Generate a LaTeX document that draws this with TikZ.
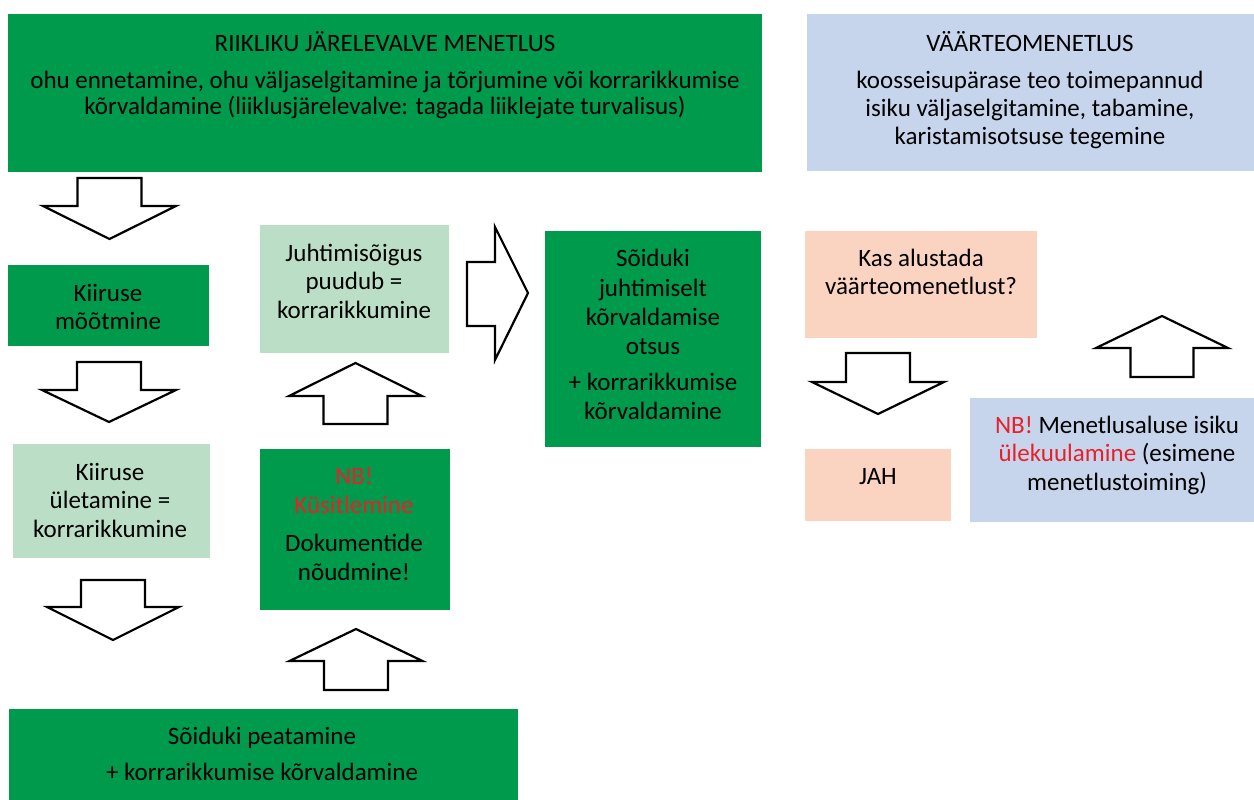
\documentclass[tikz,border=0pt]{standalone}
\usepackage{fontspec}
\setmainfont{Carlito}
\definecolor{dkgreen}{RGB}{0,154,76}
\definecolor{ltgreen}{RGB}{187,222,198}
\definecolor{ltblue}{RGB}{199,213,236}
\definecolor{peach}{RGB}{251,212,193}
\definecolor{nbred}{RGB}{232,32,40}
\newcommand{\nb}[1]{\textcolor{nbred}{#1}}
% down arrows: centre x, shaft half width, head half width, top, neck, tip
\newcommand{\downblock}[6]{%
  \draw[blockarrow] (#1-#2,#4) -- (#1+#2,#4) -- (#1+#2,#5) -- (#1+#3,#5)
    -- (#1,#6) -- (#1-#3,#5) -- (#1-#2,#5) -- cycle;}
% up arrows: centre x, shaft half width, head half width, bottom, neck, tip
\newcommand{\upblock}[6]{%
  \draw[blockarrow] (#1-#2,#4) -- (#1+#2,#4) -- (#1+#2,#5) -- (#1+#3,#5)
    -- (#1,#6) -- (#1-#3,#5) -- (#1-#2,#5) -- cycle;}

\begin{document}
\begin{tikzpicture}[x=1pt,y=-1pt,
  panel/.style={anchor=north west, inner sep=0pt, outer sep=0pt, draw=none},
  lbl/.style={align=center, inner sep=0pt, text=black},
  blockarrow/.style={draw=black, fill=white, line width=2.2pt, line join=miter},
]
\useasboundingbox (0,0) rectangle (1254,800);

% ---- panels ----
\node[panel, fill=dkgreen, minimum width=754pt, minimum height=158pt] (riik) at (8,14) {};
\node[panel, fill=ltblue,  minimum width=447pt, minimum height=157pt] (vaart) at (807,14) {};
\node[panel, fill=dkgreen, minimum width=201pt, minimum height=81pt]  (mootmine) at (8,265) {};
\node[panel, fill=ltgreen, minimum width=197pt, minimum height=114pt] (uletamine) at (13,444) {};
\node[panel, fill=dkgreen, minimum width=509pt, minimum height=91pt]  (peatamine) at (9,709) {};
\node[panel, fill=ltgreen, minimum width=189pt, minimum height=128pt] (juhtimis) at (260,225) {};
\node[panel, fill=dkgreen, minimum width=190pt, minimum height=161pt] (kusitlus) at (260,449) {};
\node[panel, fill=dkgreen, minimum width=216pt, minimum height=216pt] (otsus) at (545,231) {};
\node[panel, fill=peach,   minimum width=232pt, minimum height=107pt] (alustada) at (805,231) {};
\node[panel, fill=peach,   minimum width=146pt, minimum height=72pt]  (jah) at (805,449) {};
\node[panel, fill=ltblue,  minimum width=284pt, minimum height=124pt] (ulekuul) at (970,398) {};

% ---- texts ----
\node[lbl, font=\fontsize{25}{25}\selectfont] (t-riik1) at (385,42) {RIIKLIKU JÄRELEVALVE MENETLUS};
\node[lbl, font=\fontsize{25}{25.5}\selectfont] (t-riik2) at (385,95)
  {ohu ennetamine, ohu väljaselgitamine ja tõrjumine või korrarikkumise\\
   kõrvaldamine (liiklusjärelevalve: tagada liiklejate turvalisus)};
\node[lbl, font=\fontsize{25}{27}\selectfont] (t-vaart1) at (1030,41.5) {VÄÄRTEOMENETLUS};
\node[lbl, font=\fontsize{25}{28}\selectfont] (t-vaart2) at (1030,110)
  {koosseisupärase teo toimepannud\\ isiku väljaselgitamine, tabamine,\\ karistamisotsuse tegemine};
\node[lbl, font=\fontsize{25}{28}\selectfont] (t-mootmine) at (108,307) {Kiiruse\\ mõõtmine};
\node[lbl, font=\fontsize{25}{28.5}\selectfont] (t-uletamine) at (110,500) {Kiiruse\\ ületamine =\\ korrarikkumine};
\node[lbl, font=\fontsize{25}{36}\selectfont] (t-peatamine) at (262,754) {Sõiduki peatamine\\ + korrarikkumise kõrvaldamine};
\node[lbl, font=\fontsize{25}{28.5}\selectfont] (t-juhtimis) at (354,281) {Juhtimisõigus\\ puudub =\\ korrarikkumine};
\node[lbl, font=\fontsize{25}{29}\selectfont] (t-kusitlus) at (354,524)
  {\nb{NB!}\\ \nb{Küsitlemine}\\[9pt] Dokumentide\\ nõudmine!};
\node[lbl, font=\fontsize{25}{29.3}\selectfont] (t-otsus) at (653,334.5)
  {Sõiduki\\ juhtimiselt\\ kõrvaldamise\\ otsus\\[6pt] + korrarikkumise\\ kõrvaldamine};
\node[lbl, font=\fontsize{25}{28}\selectfont] (t-alustada) at (921,272) {Kas alustada\\ väärteomenetlust?};
\node[lbl, font=\fontsize{25}{28}\selectfont] (t-jah) at (878,477) {JAH};
\node[lbl, font=\fontsize{25}{28.5}\selectfont] (t-ulekuul) at (1117,455)
  {\nb{NB!} Menetlusaluse isiku\\ \nb{ülekuulamine} (esimene\\ menetlustoiming)};

% ---- block arrows ----
\downblock{109.5}{32}{66.5}{178}{206}{239}
\downblock{109}{32}{67}{362}{390}{422}
\downblock{113}{32}{66}{580}{607}{640}
\upblock{355.5}{32}{66.5}{424}{396}{363}
\upblock{356}{32}{66.5}{690}{661}{629}
\downblock{878}{32}{66}{353}{382}{414}
\upblock{1162}{31.5}{66}{377}{348}{316}
% right arrow between the licence box and the decision box
\draw[blockarrow] (467,262) -- (495,262) -- (495,227) -- (528,293)
  -- (495,360) -- (495,326) -- (467,326) -- cycle;
\end{tikzpicture}
\end{document}
